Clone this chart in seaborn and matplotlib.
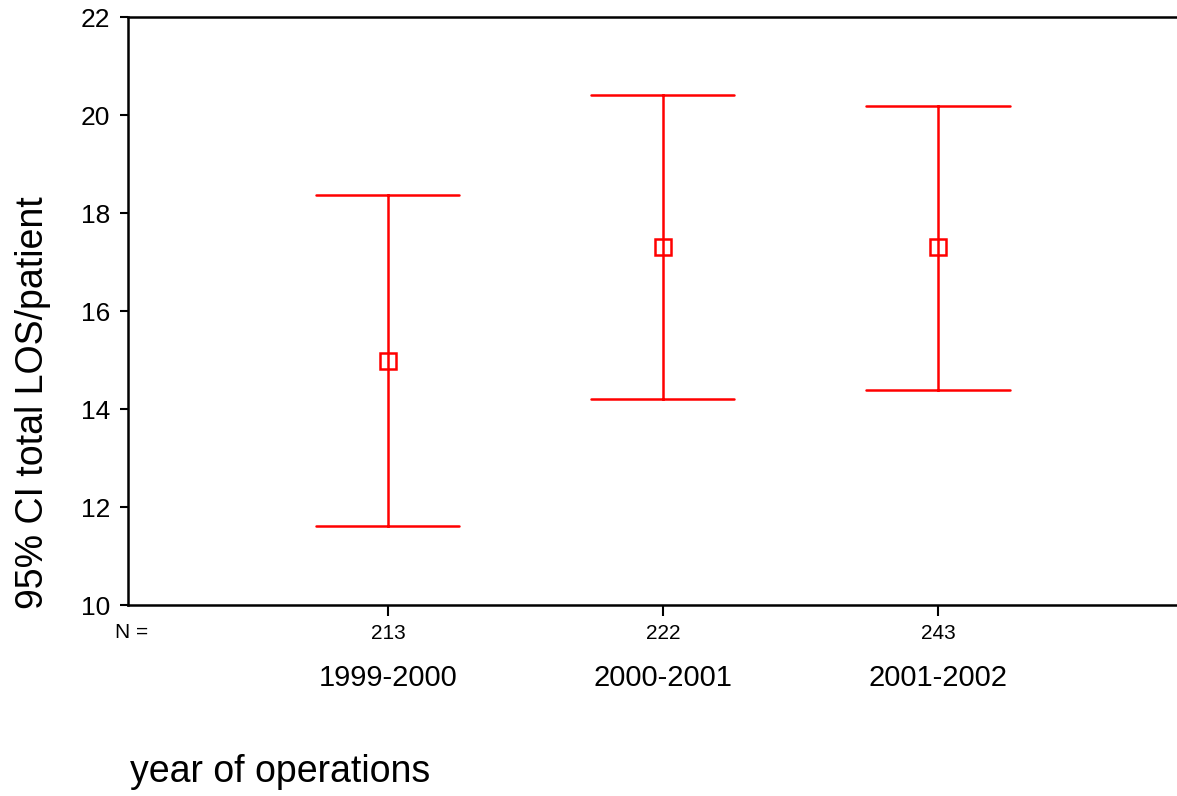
import numpy as np
import pandas as pd
import matplotlib
matplotlib.use("Agg")
import matplotlib.pyplot as plt
import matplotlib.transforms as mtransforms
import seaborn as sns

# Mean and 95% confidence limits of total length of stay per patient
years = ["1999-2000", "2000-2001", "2001-2002"]
n_patients = [213, 222, 243]
ci_lower = [11.62, 14.21, 14.38]
means = [14.98, 17.31, 17.31]
ci_upper = [18.36, 20.40, 20.19]

yticks = [10, 12, 14, 16, 18, 20, 22]

sns.set_theme(style="ticks")
plt.rcParams["font.family"] = ["Liberation Sans", "DejaVu Sans"]

# Long-form table: lower limit, mean and upper limit per year.
# The median of the three is the mean; the full range is the CI.
rows = []
for yr, lo, m, hi in zip(years, ci_lower, means, ci_upper):
    for v in (lo, m, hi):
        rows.append({"year": yr, "los": v})
df = pd.DataFrame(rows)

fig = plt.figure(figsize=(11.77, 7.96), dpi=100)
ax = fig.add_axes([0.1088, 0.2399, 0.8912, 0.7387])

red = "#FF0000"
sns.pointplot(
    data=df, x="year", y="los", order=years,
    estimator="median", errorbar=("pi", 100),
    color=red, markers="s", linestyles="none",
    capsize=0.52, err_kws={"linewidth": 1.8},
    markersize=12, markerfacecolor="none", markeredgewidth=1.8,
    ax=ax,
)

ax.set_ylim(10, 22)
ax.set_xlim(-0.945, 2.869)
ax.set_yticks(yticks)
ax.set_yticklabels([str(t) for t in yticks], fontsize=19)
ax.tick_params(axis="y", length=6, width=1.5, pad=7, colors="black")
ax.tick_params(axis="x", length=8, width=1.5, pad=6, labelsize=15, colors="black")
ax.set_xticks(range(len(years)))
ax.set_xticklabels([str(n) for n in n_patients])

for side in ("left", "bottom", "top"):
    ax.spines[side].set_visible(True)
    ax.spines[side].set_linewidth(1.8)
    ax.spines[side].set_color("black")
ax.spines["right"].set_visible(False)

ax.set_xlabel("")
ax.set_ylabel("")

# Year labels under the N counts
trans = mtransforms.blended_transform_factory(ax.transData, fig.transFigure)
for i, yr in enumerate(years):
    ax.text(i, 1 - 678 / 796, yr, transform=trans, ha="center", va="center",
            fontsize=21, color="black")

fig.text(115 / 1177, 1 - 633 / 796, "N =", ha="left", va="center",
         fontsize=15, color="black")
fig.text(130 / 1177, 1 - 772 / 796, "year of operations", ha="left",
         va="center", fontsize=27, color="black")
fig.text(33 / 1177, 1 - 403 / 796, "95% CI total LOS/patient", rotation=90,
         ha="center", va="center", fontsize=27, color="black")

fig.savefig("out.png", dpi=100, facecolor="white")
